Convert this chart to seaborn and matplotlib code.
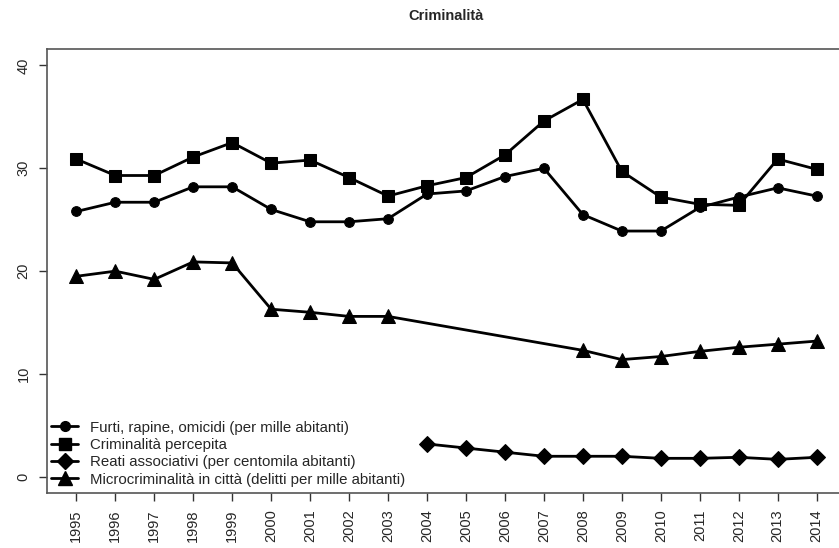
import numpy as np
import pandas as pd
import matplotlib
matplotlib.use("Agg")
import matplotlib.pyplot as plt
import seaborn as sns
from matplotlib.lines import Line2D

years = list(range(1995, 2015))

furti = [25.8, 26.7, 26.7, 28.2, 28.2, 26.0, 24.8, 24.8, 25.1, 27.5,
         27.8, 29.2, 30.0, 25.5, 23.9, 23.9, 26.2, 27.2, 28.1, 27.3]
percepita = [30.9, 29.3, 29.3, 31.1, 32.5, 30.5, 30.8, 29.1, 27.3, 28.3,
             29.1, 31.3, 34.6, 36.7, 29.7, 27.2, 26.5, 26.4, 30.9, 29.9]
associativi = [np.nan] * 9 + [3.2, 2.8, 2.4, 2.0, 2.0, 2.0, 1.8, 1.8, 1.9, 1.7, 1.9]
micro = [19.5, 20.0, 19.2, 20.9, 20.8, 16.3, 16.0, 15.6, 15.6, np.nan,
         np.nan, np.nan, np.nan, 12.3, 11.4, 11.7, 12.2, 12.6, 12.9, 13.2]

labels = ["Furti, rapine, omicidi (per mille abitanti)",
          "Criminalità percepita",
          "Reati associativi (per centomila abitanti)",
          "Microcriminalità in città (delitti per mille abitanti)"]
markers = ["o", "s", "D", "^"]
msizes = [7, 9, 8, 10]

sns.set_style("white")
plt.rcParams["font.family"] = ["Liberation Sans", "DejaVu Sans"]

fig = plt.figure(figsize=(8.39, 5.48), dpi=100)
W, H = 839, 548
left, right, top, bottom = 46.7, 846.3, 49, 493.3
ax = fig.add_axes([left / W, 1 - bottom / H, (right - left) / W, (bottom - top) / H])

series = [furti, percepita, associativi, micro]
for vals, lab, mk, ms in zip(series, labels, markers, msizes):
    df = pd.DataFrame({"anno": years, "valore": vals}).dropna()
    sns.lineplot(data=df, x="anno", y="valore", ax=ax, color="black",
                 linewidth=2, marker=mk, markersize=ms, markeredgecolor="black",
                 markerfacecolor="black", legend=False)

ax.set_xlim(1994.24, 2014.76)
ax.set_ylim(-1.6, 41.6)
ax.set_xticks(years)
ax.set_xticklabels([str(y) for y in years], rotation=90, fontsize=10.5)
ax.set_yticks([0, 10, 20, 30, 40])
ax.set_yticklabels(["0", "10", "20", "30", "40"], rotation=90, va="center", fontsize=10.5)
ax.set_xlabel("")
ax.set_ylabel("")
ax.tick_params(axis="both", direction="out", length=5.5, width=1, color="#333333",
               bottom=True, left=True, pad=6)
for s in ax.spines.values():
    s.set_color("#555555")
    s.set_linewidth(1.2)

ax.set_title("Criminalità", fontsize=10.5, fontweight="bold", pad=21)

handles = [Line2D([0], [0], color="black", linewidth=2, marker=mk, markersize=ms,
                  markerfacecolor="black", markeredgecolor="black")
           for mk, ms in zip(markers, msizes)]
ax.legend(handles, labels, loc="lower left", frameon=False, fontsize=10.8,
          handlelength=1.8, handletextpad=0.8, labelspacing=0.22,
          borderaxespad=0.0, borderpad=0.45, bbox_to_anchor=(-0.003, 0.0))

fig.savefig("out.png", dpi=100)
